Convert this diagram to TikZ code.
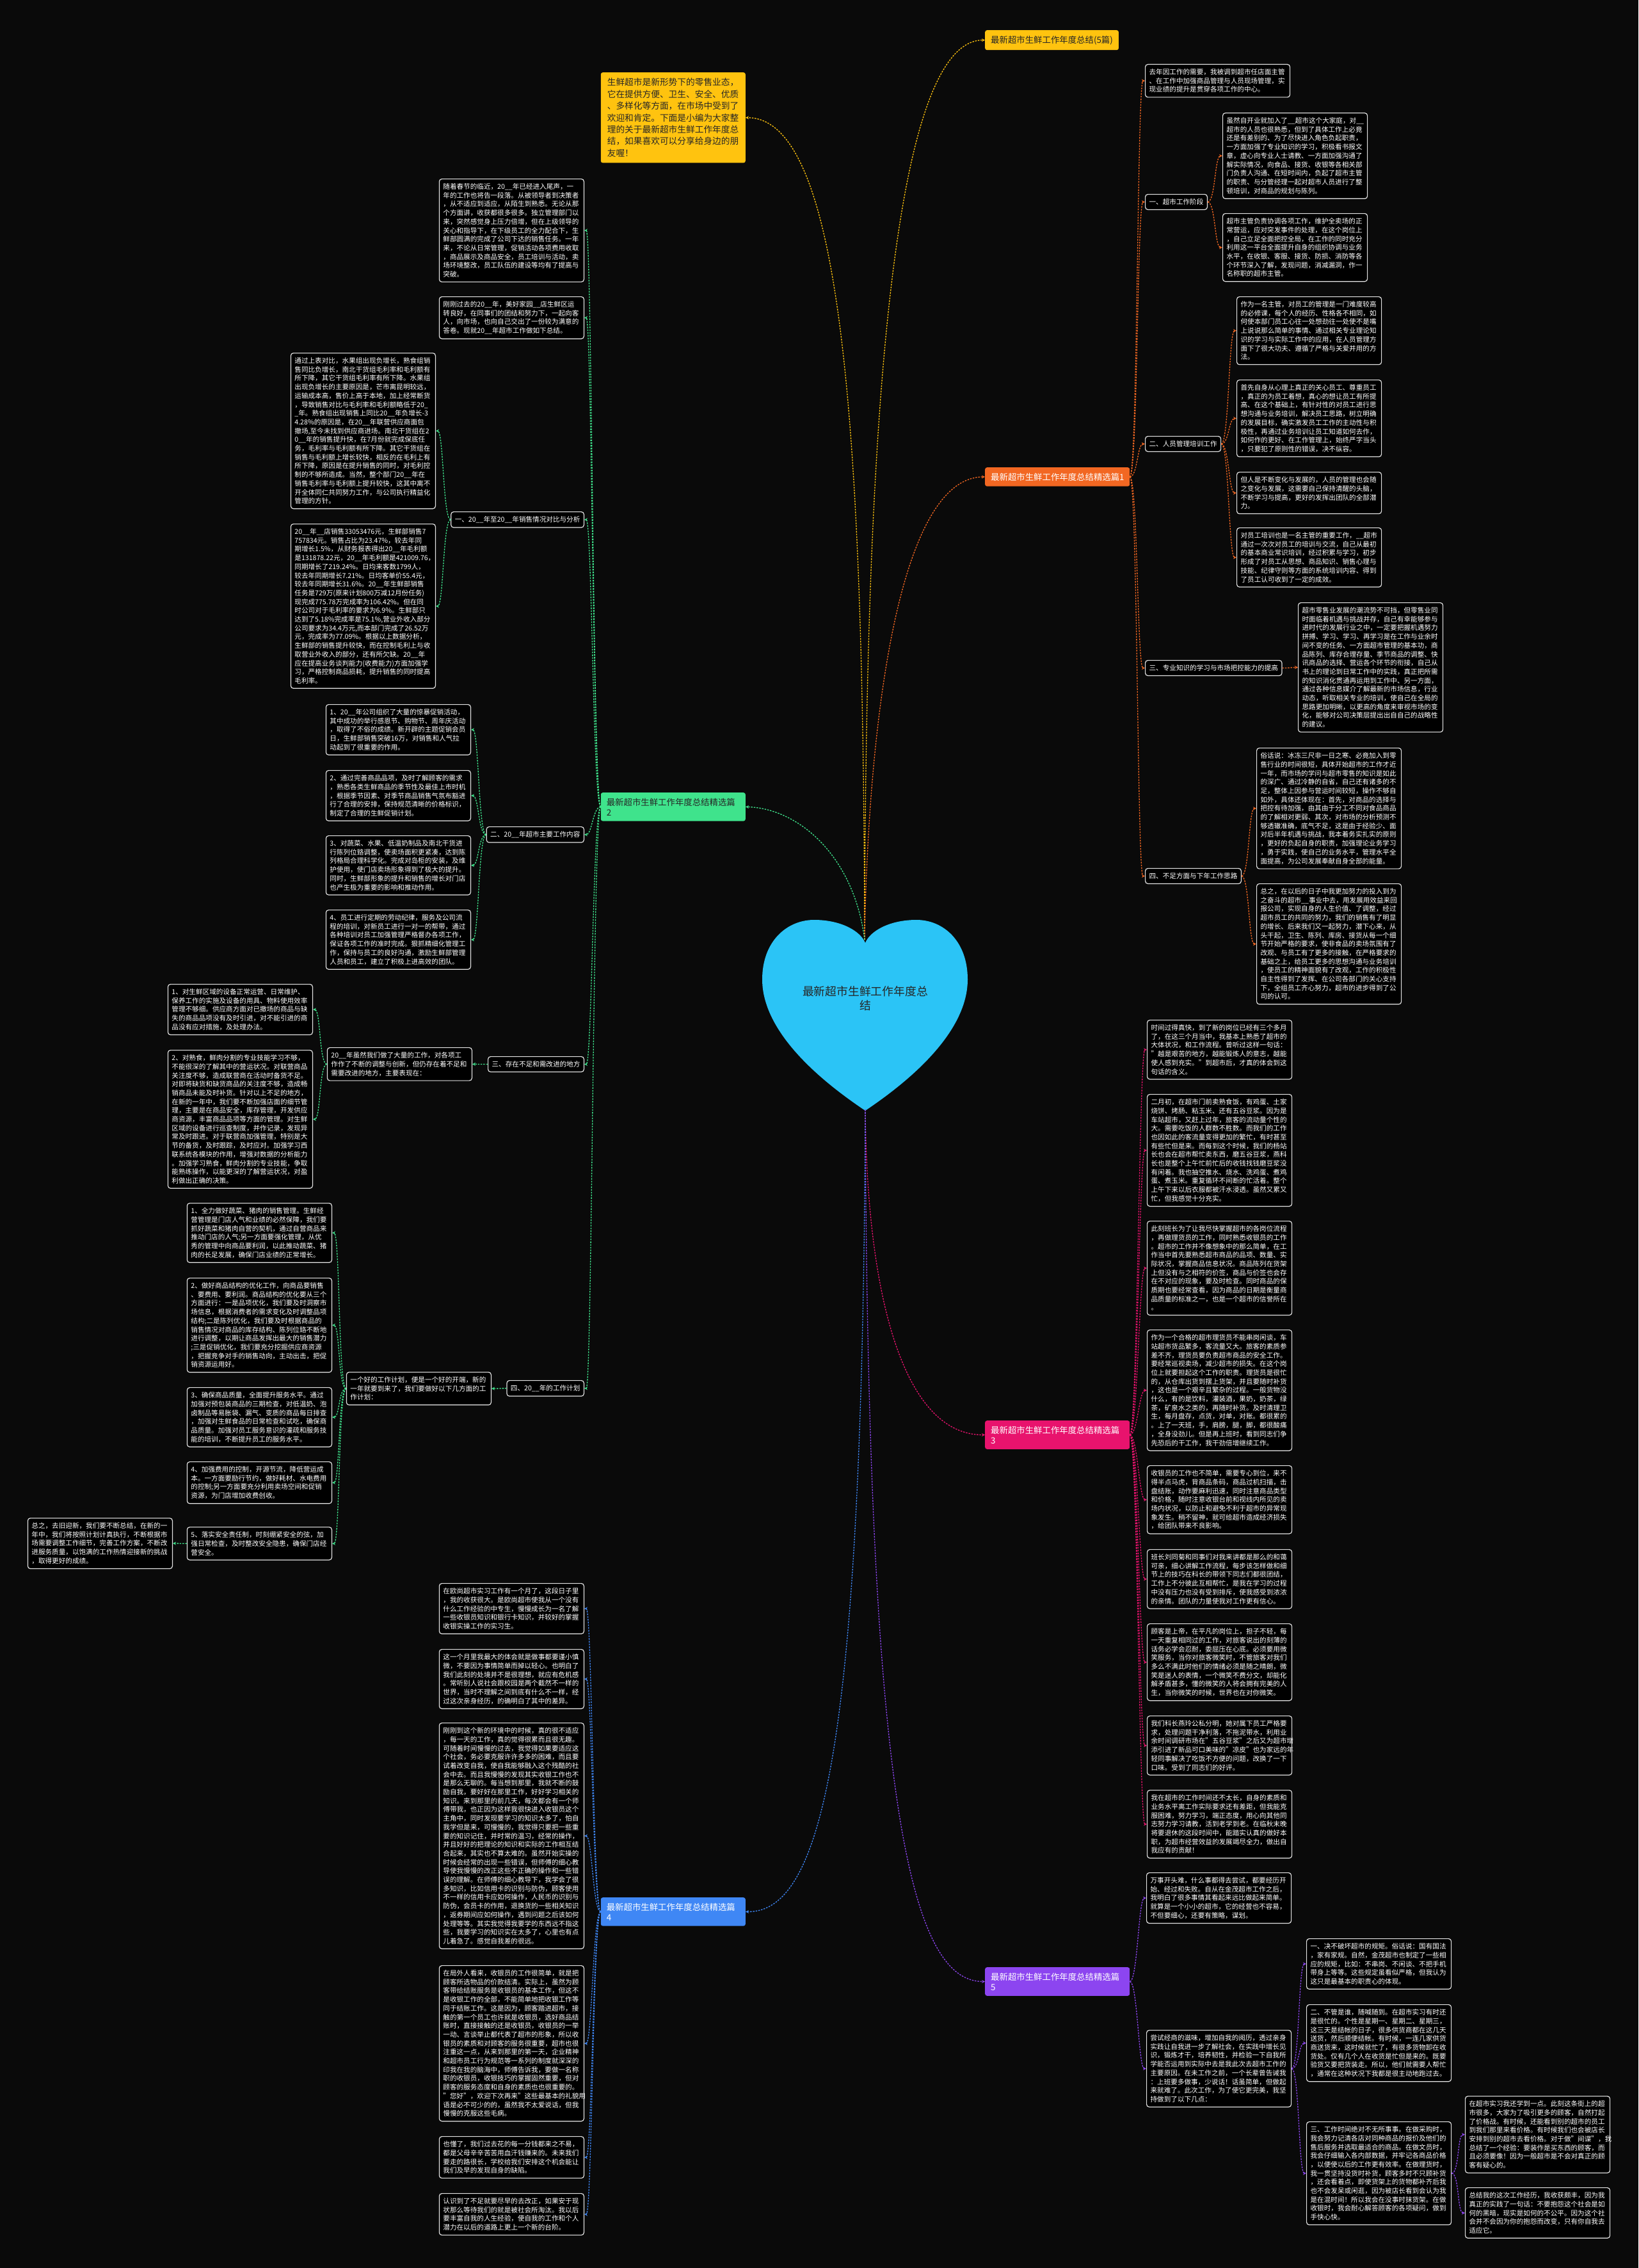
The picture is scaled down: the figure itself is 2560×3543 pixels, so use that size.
\documentclass[tikz,border=0pt]{standalone}
\usepackage{fontspec}
\setmainfont{Noto Sans CJK SC}
\usetikzlibrary{calc,arrows.meta}
\definecolor{bgc}{HTML}{0A0A0A}
\definecolor{boxl}{HTML}{E2E2E2}
\definecolor{cY}{HTML}{FFC30F}
\definecolor{cO}{HTML}{F26722}
\definecolor{cG}{HTML}{3FE38C}
\definecolor{cP}{HTML}{E8136D}
\definecolor{cB}{HTML}{3F87F5}
\definecolor{cV}{HTML}{8C45F0}
\definecolor{cH}{HTML}{2BC4F6}
\tikzset{
  tb/.style={draw=boxl, line width=1.2pt, rounded corners=4pt, fill=black, text=white,
    inner xsep=6pt, inner ysep=7pt, align=left, text width=214pt,
    font=\fontsize{10.6pt}{13.7pt}\selectfont},
  tl/.style={draw=boxl, line width=1.2pt, rounded corners=4pt, fill=black, text=white,
    inner xsep=6pt, inner ysep=7pt, font=\fontsize{10.6pt}{13.7pt}\selectfont},
  mlab/.style={rounded corners=3pt, inner xsep=9pt, inner ysep=8.5pt, align=left,
    font=\fontsize{13.4pt}{16pt}\selectfont},
  cn/.style={line width=1.3pt, dash pattern=on 2.5pt off 1.8pt, -{Stealth[length=5pt,width=5pt]}},
}
\newcommand{\conR}[3]{\draw[cn,#1] (#2.east) .. controls ($(#2.east)+(12,0)$) and ($(#3.west)+(-12,0)$) .. (#3.west);}
\newcommand{\conL}[3]{\draw[cn,#1] (#2.west) .. controls ($(#2.west)+(-12,0)$) and ($(#3.east)+(12,0)$) .. (#3.east);}
\begin{document}
\begin{tikzpicture}[x=1pt,y=-1pt]
\fill[bgc] (0,0) rectangle (2560,3543);
\useasboundingbox (0,0) rectangle (2560,3543);

% heart
\fill[cH] (1352,1735)
 .. controls (1300,1700) and (1191,1620) .. (1191,1530)
 .. controls (1191,1470) and (1230,1437) .. (1272,1437)
 .. controls (1315,1437) and (1345,1455) .. (1352,1473)
 .. controls (1359,1455) and (1389,1437) .. (1432,1437)
 .. controls (1474,1437) and (1512,1470) .. (1512,1530)
 .. controls (1512,1620) and (1404,1700) .. (1352,1735) -- cycle;
\node[align=center, text=black!85, font=\fontsize{17.8pt}{22pt}\selectfont] (root) at (1352,1560) {最新超市生鲜工作年度总\\结};
\coordinate (ht) at (1351,1468);
\coordinate (hb) at (1352,1733);

% main labels
\node[mlab, fill=cY, text=black!85, anchor=north west] (Y5) at (1539,47) {最新超市生鲜工作年度总结(5篇)};
\node[mlab, fill=cO, text=white, anchor=north west, text width=208pt] (O1) at (1539,730) {最新超市生鲜工作年度总结精选篇1};
\node[mlab, fill=cP, text=white, anchor=north west, text width=208pt] (P3) at (1539,2219) {最新超市生鲜工作年度总结精选篇\\3};
\node[mlab, fill=cV, text=white, anchor=north west, text width=208pt] (V5) at (1539,3073) {最新超市生鲜工作年度总结精选篇\\5};
\node[mlab, fill=cG, text=black!85, anchor=north east, text width=208pt] (G2) at (1165,1238) {最新超市生鲜工作年度总结精选篇\\2};
\node[mlab, fill=cB, text=white, anchor=north east, text width=208pt] (B4) at (1165,2964) {最新超市生鲜工作年度总结精选篇\\4};
\node[rounded corners=3pt, fill=cY, text=black!85, anchor=north east, align=left, text width=206pt,
  inner xsep=10pt, inner ysep=9pt, font=\fontsize{13.7pt}{18.4pt}\selectfont] (intro) at (1165,113)
 {生鲜超市是新形势下的零售业态，\\它在提供方便、卫生、安全、优质\\、多样化等方面，在市场中受到了\\欢迎和肯定。下面是小编为大家整\\理的关于最新超市生鲜工作年度总\\结，如果喜欢可以分享给身边的朋\\友喔！};

% heart connectors
\draw[cn,cY] (ht) .. controls (1349,700) and (1320,184) .. (intro.east);
\draw[cn,cY] (ht) .. controls (1352,700) and (1390,62) .. (Y5.west);
\draw[cn,cO] (ht) .. controls (1356,1150) and (1400,746) .. (O1.west);
\draw[cn,cG] (ht) .. controls (1335,1340) and (1250,1263) .. (G2.east);
\draw[cn,cP] (hb) .. controls (1355,2050) and (1420,2242) .. (P3.west);
\draw[cn,cB] (hb) .. controls (1348,2700) and (1290,2988) .. (B4.east);
\draw[cn,cV] (hb) .. controls (1356,2800) and (1420,3096) .. (V5.west);

% ===== 篇1 =====
\node[tb,anchor=north west] (a0) at (1789,100) {去年因工作的需要，我被调到超市任店面主管\\、在工作中加强商品管理与人员现场管理，实\\现业绩的提升是贯穿各项工作的中心。};
\node[tl,anchor=north west] (l1) at (1789,303) {一、超市工作阶段};
\node[tb,anchor=north west] (l1a) at (1910,176) {虽然自开业就加入了\_\_超市这个大家庭，对\_\_\\超市的人员也很熟悉，但到了具体工作上必竟\\还是有差别的、为了尽快进入角色负起职责，\\一方面加强了专业知识的学习，积极看书报文\\章，虚心向专业人士请教、一方面加强沟通了\\解实际情况，向食品、接货、收银等各相关部\\门负责人沟通、在短时间内，负起了超市主管\\的职责、与分管经理一起对超市人员进行了整\\顿培训，对商品的规划与陈列。};
\node[tb,anchor=north west] (l1b) at (1910,333) {超市主管负责协调各项工作，维护全卖场的正\\常营运，应对突发事件的处理，在这个岗位上\\，自己立足全面把控全局，在工作的同时充分\\利用这一平台全面提升自身的组织协调与业务\\水平，在收银、客服、接货、防损、消防等各\\个环节深入了解，发现问题，消减漏洞，作一\\名称职的超市主管。};
\node[tl,anchor=north west] (l2) at (1789,681) {二、人员管理培训工作};
\node[tb,anchor=north west] (l2a) at (1932,463) {作为一名主管，对员工的管理是一门难度较高\\的必修课，每个人的经历、性格各不相同，如\\何使本部门员工心往一处想劲往一处使不是嘴\\上说说那么简单的事情、通过相关专业理论知\\识的学习与实际工作中的应用，在人员管理方\\面下了很大功夫、遵循了严格与关爱并用的方\\法。};
\node[tb,anchor=north west] (l2b) at (1932,593) {首先自身从心理上真正的关心员工、尊重员工\\，真正的为员工着想，真心的想让员工有所提\\高、在这个基础上，有针对性的对员工进行思\\想沟通与业务培训，解决员工思路，树立明确\\的发展目标，确实激发员工工作的主动性与积\\极性，再通过业务培训让员工知道如何去作，\\如何作的更好、在工作管理上，始终严字当头\\，只要犯了原则性的错误，决不纵容。};
\node[tb,anchor=north west] (l2c) at (1932,737) {但人是不断变化与发展的，人员的管理也会随\\之变化与发展，这需要自己保持清醒的头脑，\\不断学习与提高，更好的发挥出团队的全部潜\\力。};
\node[tb,anchor=north west] (l2d) at (1932,824) {对员工培训也是一名主管的重要工作，\_\_超市\\通过一次次对员工的培训与交流，自己从最初\\的基本商业常识培训，经过积累与学习，初步\\形成了对员工从思想、商品知识、销售心理与\\技能、纪律守则等方面的系统培训内容、得到\\了员工认可收到了一定的成效。};
\node[tl,anchor=north west] (l3) at (1789,1031) {三、专业知识的学习与市场把控能力的提高};
\node[tb,anchor=north west] (l3a) at (2028,941) {超市零售业发展的潮流势不可挡，但零售业同\\时面临着机遇与挑战并存，自己有幸能够参与\\进时代的发展行业之中，一定要把握机遇努力\\拼搏、学习、学习、再学习是在工作与业余时\\间不变的任务、一方面超市管理的基本功，商\\品陈列、库存合理存量、季节商品的调整、快\\讯商品的选择、营运各个环节的衔接，自己从\\书上的理论到日常工作中的实践，真正把所需\\的知识消化贯通再运用到工作中、另一方面，\\通过各种信息媒介了解最新的市场信息，行业\\动态，听取相关专业的培训，使自己在全局的\\思路更加明晰，以更高的角度来审视市场的变\\化，能够对公司决策层提出出自自己的战略性\\的建议。};
\node[tl,anchor=north west] (l4) at (1789,1356) {四、不足方面与下年工作思路};
\node[tb,anchor=north west] (l4a) at (1963,1168) {俗话说：冰冻三尺非一日之寒、必竟加入到零\\售行业的时间很短，具体开始超市的工作才近\\一年，而市场的学问与超市零售的知识是如此\\的深广、通过冷静的自省，自己还有诸多的不\\足，整体上因参与营运时间较短，操作不够自\\如外，具体还体现在：首先，对商品的选择与\\把控有待加强，由其由于分工不同对食品商品\\的了解相对更弱、其次，对市场的分析预测不\\够透辙准确，底气不足，这是由于经验少、面\\对后半年机遇与挑战，我本着务实扎实的原则\\，更好的负起自身的职责，加强理论业务学习\\，勇于实践，使自己的业务水平，管理水平全\\面提高，为公司发展奉献自身全部的能量。};
\node[tb,anchor=north west] (l4b) at (1963,1380) {总之，在以后的日子中我更加努力的投入到为\\之奋斗的超市\_\_事业中去，用发展用效益来回\\报公司，实现自身的人生价值、了调整，经过\\超市员工的共同的努力，我们的销售有了明显\\的增长、后来我们又一起努力，潜下心来，从\\头干起，卫生、陈列、库房、接货从每一个细\\节开始严格的要求，使非食品的卖场氛围有了\\改观、与员工有了更多的接触，在严格要求的\\基础之上，给员工更多的思想沟通与业务培训\\，使员工的精神面貌有了改观，工作的积极性\\自主性得到了发挥、在公司各部门的关心支持\\下，全组员工齐心努力，超市的进步得到了公\\司的认可。};
\conR{cO}{O1}{a0}\conR{cO}{O1}{l1}\conR{cO}{O1}{l2}\conR{cO}{O1}{l3}\conR{cO}{O1}{l4}
\conR{cO}{l1}{l1a}\conR{cO}{l1}{l1b}
\conR{cO}{l2}{l2a}\conR{cO}{l2}{l2b}\conR{cO}{l2}{l2c}\conR{cO}{l2}{l2d}
\conR{cO}{l3}{l3a}
\conR{cO}{l4}{l4a}\conR{cO}{l4}{l4b}

% ===== 篇3 =====
\node[tb,anchor=north west] (p1) at (1792,1593) {时间过得真快，到了新的岗位已经有三个多月\\了，在这三个月当中，我基本上熟悉了超市的\\大体状况，和工作流程。曾听过这样一句话：\\"越是艰苦的地方，越能锻炼人的意志，越能\\使人感到充实。"到超市后，才真的体会到这\\句话的含义。};
\node[tb,anchor=north west] (p2) at (1792,1709) {二月初，在超市门前卖熟食饭，有鸡蛋、土家\\烧饼、烤肠、粘玉米、还有五谷豆浆。因为是\\车站超市，又赶上过年，旅客的流动量个性的\\大。需要吃饭的人群数不胜数。而我们的工作\\也因如此的客流量变得更加的繁忙，有时甚至\\有些忙但是来。而每到这个时候，我们的杨站\\长也会在超市帮忙卖东西，磨五谷豆浆，燕科\\长也是整个上午忙前忙后的收钱找钱磨豆浆没\\有闲着。我也抽空推水、烧水、洗鸡蛋、煮鸡\\蛋、煮玉米。重复循环不间断的忙活着。整个\\上午下来以后衣服都被汗水浸透。虽然又累又\\忙，但我感觉十分充实。};
\node[tb,anchor=north west] (p3) at (1792,1907) {此刻班长为了让我尽快掌握超市的各岗位流程\\，再做理货员的工作，同时熟悉收银员的工作\\。超市的工作并不像想象中的那么简单，在工\\作当中首先要熟悉超市商品的品项、数量、实\\际状况，掌握商品信息状况。商品陈列在货架\\上但没有与之相符的价签，商品与价签也会存\\在不对应的现象，要及时检查。同时商品的保\\质期也要经常查看，因为商品的日期是衡量商\\品质量的标准之一，也是一个超市的信誉所在\\。};
\node[tb,anchor=north west] (p4) at (1792,2077) {作为一个合格的超市理货员不能串岗闲谈，车\\站超市货品繁多，客流量又大。旅客的素质参\\差不齐，理货员要负责超市商品的安全工作。\\要经常巡视卖场，减少超市的损失。在这个岗\\位上就要担起这个工作的职责。理货员是很忙\\的，从仓库出货到摆上货架，并且要随时补货\\，这也是一个艰辛且繁杂的过程。一般货物没\\什么，有的是饮料，灌装酒，果奶，奶茶，绿\\茶，矿泉水之类的，再随时补货。及时清理卫\\生，每月盘存，点货，对单，对账。都很累的\\。上了一天班，手，肩膀，腿，脚，都很酸痛\\，全身没劲儿。但是再上班时，看到同志们争\\先恐后的干工作，我干劲倍增继续工作。};
\node[tb,anchor=north west] (p5) at (1792,2289) {收银员的工作也不简单，需要专心到位，来不\\得半点马虎，背商品条码，商品过机扫描，击\\盘结账，动作要麻利迅速，同时注意商品类型\\和价格，随时注意收银台前和视线内所见的卖\\场内状况，以防止和避免不利于超市的异常现\\象发生。稍不留神，就可给超市造成经济损失\\，给团队带来不良影响。};
\node[tb,anchor=north west] (p6) at (1792,2420) {班长刘同菊和同事们对我来讲都是那么的和蔼\\可亲，细心讲解工作流程，每步该怎样做和细\\节上的技巧在科长的带领下同志们都很团结，\\工作上不分彼此互相帮忙，是我在学习的过程\\中没有压力也没有受到排斥，使我感受到浓浓\\的亲情。团队的力量使我对工作更有信心。};
\node[tb,anchor=north west] (p7) at (1792,2536) {顾客是上帝，在平凡的岗位上，担子不轻，每\\一天重复相同过的工作，对旅客说出的刻薄的\\话务必学会忍耐，委屈压在心底。必须要用微\\笑服务，当你对旅客微笑时，不管旅客对我们\\多么不满此时他们的情绪必须是随之晴朗，微\\笑是迷人的表情，一个微笑不费分文，却能化\\解矛盾甚多，懂的微笑的人将会拥有完美的人\\生，当你微笑的时候，世界也在对你微笑。};
\node[tb,anchor=north west] (p8) at (1792,2680) {我们科长燕玲公私分明，她对属下员工严格要\\求，处理问题干净利落，不拖泥带水，利用业\\余时间调研市场在"五谷豆浆"之后又为超市增\\添引进了新品可口美味的"凉皮"也为家远的年\\轻同事解决了吃饭不方便的问题，改换了一下\\口味。受到了同志们的好评。};
\node[tb,anchor=north west] (p9) at (1792,2796) {我在超市的工作时间还不太长，自身的素质和\\业务水平离工作实际要求还有差距，但我能克\\服困难，努力学习，端正态度，用心向其他同\\志努力学习请教，活到老学到老。在临秋末晚\\将要退休的这段时间中，能踏实认真的做好本\\职，为超市经营效益的发展竭尽全力，做出自\\我应有的贡献！};
\conR{cP}{P3}{p1}\conR{cP}{P3}{p2}\conR{cP}{P3}{p3}\conR{cP}{P3}{p4}\conR{cP}{P3}{p5}
\conR{cP}{P3}{p6}\conR{cP}{P3}{p7}\conR{cP}{P3}{p8}\conR{cP}{P3}{p9}

% ===== 篇5 =====
\node[tb,anchor=north west] (q1) at (1791,2925) {万事开头难，什么事都得去尝试，都要经历开\\始、经过和失败。自从在金茂超市工作之后，\\我明白了很多事情其看起来远比做起来简单。\\就算是一个小小的超市，它的经营也不容易，\\不但要细心，还要有策略，谋划。};
\node[tb,anchor=north west] (q2) at (1791,3171) {尝试经商的滋味，增加自我的阅历，透过亲身\\实践让自我进一步了解社会，在实践中增长见\\识，锻炼才干，培养韧性，并检验一下自我所\\学能否运用到实际中去是我此次去超市工作的\\主要原因。在未工作之前，一个长辈曾告诫我\\：上班要多做事，少说话！话虽简单，但做起\\来就难了。此次工作，为了使它更完美，我坚\\持做到了以下几点：};
\node[tb,anchor=north west] (r1) at (2041,3028) {一、决不破坏超市的规矩。俗话说：国有国法\\，家有家规。自然，金茂超市也制定了一些相\\应的规矩，比如：不串岗、不闲谈、不把手机\\带身上等等。这些规定虽看似严格，但我认为\\这只是最基本的职责心的体现。};
\node[tb,anchor=north west] (r2) at (2041,3131) {二、不管是谁，随喊随到。在超市实习有时还\\是很忙的。个性是星期一、星期二、星期三，\\这三天是结帐的日子，很多供货商都在这几天\\送货，然后顺便结帐。有时候，一连几家供货\\商送货来，这时候就忙了，有很多货物卸在收\\货处。仅有几个人在收货是忙但是来的。既要\\验货又要把货装走。所以，他们就需要人帮忙\\，通常在这种状况下我都是很主动地跑过去。};
\node[tb,anchor=north west] (r3) at (2041,3314) {三、工作时间绝对不无所事事。在做采购时，\\我会努力记清各店对同种商品的报价及他们的\\售后服务并选取最适合的商品。在做文员时，\\我会仔细输入各内部数据，并牢记各商品价格\\，以便使以后的工作更有效率。在做理货时，\\我一贯坚持没货时补货，顾客多时不只顾补货\\，还会看着点，即使货架上的货物都补齐后我\\也不会发呆或闲逛，因为被店长看到会认为我\\是在混时间！所以我会在没事时抹货架。在做\\收银时，我会耐心解答顾客的各项疑问，做到\\手快心快。};
\node[tb,anchor=north west] (s1) at (2289,3274) {在超市实习我还学到一点。此刻这条街上的超\\市很多，大家为了吸引更多的顾客，自然打起\\了价格战。有时候，还能看到别的超市的员工\\到我们那里来看价格。有时候我们也会被店长\\安排到别的超市去看价格。对于做"间谍"，我\\总结了一个经验：要装作是买东西的顾客，而\\且必须要像！因为一般超市是不会对真正的顾\\客有疑心的。};
\node[tb,anchor=north west] (s2) at (2289,3417) {总结我的这次工作经历，我收获颇丰，因为我\\真正的实践了一句话：不要抱怨这个社会是如\\何的黑暗，现实是如何的不公平。因为这个社\\会并不会因为你的抱怨而改变，只有你自我去\\适应它。};
\conR{cV}{V5}{q1}\conR{cV}{V5}{q2}
\conR{cV}{q2}{r1}\conR{cV}{q2}{r2}\conR{cV}{q2}{r3}
\conR{cV}{r3}{s1}\conR{cV}{r3}{s2}

% ===== 篇2 =====
\node[tb,anchor=north east] (g0) at (913,279) {随着春节的临近，20\_\_年已经进入尾声，一\\年的工作也将告一段落。从被领导者到决策者\\，从不适应到适应，从陌生到熟悉。无论从那\\个方面讲，收获都很多很多。独立管理部门以\\来，突然感觉身上压力倍增，但在上级领导的\\关心和指导下，在下级员工的全力配合下，生\\鲜部圆满的完成了公司下达的销售任务。一年\\来，不论从日常管理，促销活动各项费用收取\\，商品展示及商品安全，员工培训与活动，卖\\场环境整改，员工队伍的建设等均有了提高与\\突破。};
\node[tb,anchor=north east] (g1) at (913,463) {刚刚过去的20\_\_年，美好家园\_\_店生鲜区运\\转良好，在同事们的团结和努力下，一起向客\\人，向市场，也向自己交出了一份较为满意的\\答卷。现就20\_\_年超市工作做如下总结。};
\node[tl,anchor=north east] (k1) at (913,799) {一、20\_\_年至20\_\_年销售情况对比与分析};
\node[tb,anchor=north east] (k1a) at (681,551) {通过上表对比，水果组出现负增长，熟食组销\\售同比负增长，南北干货组毛利率和毛利额有\\所下降，其它干货组毛利率有所下降。水果组\\出现负增长的主要原因是，芒市离昆明较远，\\运输成本高，售价上高于本地，加上经常断货\\，导致销售对比与毛利率和毛利额略低于20\_\\\_年。熟食组出现销售上同比20\_\_年负增长-3\\4.28\%的原因是，在20\_\_年联营供应商面包\\撤场,至今未找到供应商进场。南北干货组在2\\0\_\_年的销售提升快，在7月份就完成保底任\\务，毛利率与毛利额有所下降。其它干货组在\\销售与毛利额上增长较快，相反的在毛利上有\\所下降，原因是在提升销售的同时，对毛利控\\制的不够所造成。当然，整个部门20\_\_年在\\销售毛利率与毛利额上提升较快，这其中离不\\开全体同仁共同努力工作，与公司执行精益化\\管理的方针。};
\node[tb,anchor=north east] (k1b) at (681,818) {20\_\_年\_\_店销售33053476元，生鲜部销售7\\757834元。销售占比为23.47\%，较去年同\\期增长1.5\%，从财务报表得出20\_\_年毛利额\\是131878.22元，20\_\_年毛利额是421009.76，\\同期增长了219.24\%。日均来客数1799人，\\较去年同期增长7.21\%。日均客单价55.4元，\\较去年同期增长31.6\%。20\_\_年生鲜部销售\\任务是729万(原来计划800万减12月份任务)\\现完成775.78万完成率为106.42\%。但在同\\时公司对于毛利率的要求为6.9\%。生鲜部只\\达到了5.18\%完成率是75.1\%,营业外收入部分\\公司要求为34.4万元,而本部门完成了26.52万\\元，完成率为77.09\%。根据以上数据分析，\\生鲜部的销售提升较快，而在控制毛利上与收\\取营业外收入的部分，还有所欠缺。20\_\_年\\应在提高业务谈判能力(收费能力)方面加强学\\习，严格控制商品损耗，提升销售的同时提高\\毛利率。};
\node[tl,anchor=north east] (k2) at (913,1291) {二、20\_\_年超市主要工作内容};
\node[tb,anchor=north east] (k2a) at (736,1100) {1、20\_\_年公司组织了大量的惊暴促销活动，\\其中成功的举行感恩节、购物节、周年庆活动\\，取得了不俗的成绩。新开辟的主题促销会员\\日，生鲜部销售突破16万，对销售和人气拉\\动起到了很重要的作用。};
\node[tb,anchor=north east] (k2b) at (736,1203) {2、通过完善商品品项，及时了解顾客的需求\\，熟悉各类生鲜商品的季节性及最佳上市时机\\，根据季节因素、对季节商品销售气氛布豁进\\行了合理的安排，保持规范清晰的价格标识，\\制定了合理的生鲜促销计划。};
\node[tb,anchor=north east] (k2c) at (736,1305) {3、对蔬菜、水果、低温奶制品及南北干货进\\行陈列位臵调整，使卖场面积更紧凑，达到陈\\列格局合理科学化。完成对岛柜的安装，及维\\护使用，使门店卖场形象得到了极大的提升。\\同时，生鲜部形象的提升和销售的增长对门店\\也产生极为重要的影响和推动作用。};
\node[tb,anchor=north east] (k2d) at (736,1421) {4、员工进行定期的劳动纪律，服务及公司流\\程的培训，对新员工进行一对一的帮带，通过\\各种培训对员工加强管理严格督办各项工作，\\保证各项工作的准时完成。狠抓精细化管理工\\作，保持与员工的良好沟通，激励生鲜部管理\\人员和员工，建立了积极上进高效的团队。};
\node[tl,anchor=north east] (k3) at (913,1650) {三、存在不足和需改进的地方};
\node[tb,anchor=north east] (k3a) at (738,1636) {20\_\_年虽然我们做了大量的工作，对各项工\\作作了不断的调整与创新，但仍存在着不足和\\需要改进的地方，主要表现在：};
\node[tb,anchor=north east] (k3b) at (489,1537) {1、对生鲜区域的设备正常运营、日常维护、\\保养工作的实施及设备的用具、物料使用效率\\管理不够细。供应商方面对已撤场的商品与缺\\失的商品品项没有及时引进，对不能引进的商\\品没有应对措施，及处理办法。};
\node[tb,anchor=north east] (k3c) at (489,1640) {2、对熟食，鲜肉分割的专业技能学习不够，\\不能很深的了解其中的营运状况。对联营商品\\关注度不够，造成联营商在活动时备货不足。\\对即将缺货和缺货商品的关注度不够，造成畅\\销商品未能及时补货。针对以上不足的地方，\\在新的一年中，我们要不断加强店面的细节管\\理，主要是在商品安全，库存管理，开发供应\\商资源，丰富商品品项等方面的管理。对生鲜\\区域的设备进行巡查制度，并作记录，发现异\\常及时跟进。对于联营商加强管理，特别是大\\节的备货，及时跟踪，及时应对。加强学习西\\联系统各模块的作用，增强对数据的分析能力\\。加强学习熟食，鲜肉分割的专业技能，争取\\能熟练操作，以能更深的了解营运状况，对盈\\利做出正确的决策。};
\node[tl,anchor=north east] (k4) at (913,2156) {四、20\_\_年的工作计划};
\node[tb,anchor=north east] (k4a) at (768,2143) {一个好的工作计划，便是一个好的开端，新的\\一年就要到来了，我们要做好以下几方面的工\\作计划：};
\node[tb,anchor=north east] (h1) at (519,1879) {1、全力做好蔬菜、猪肉的销售管理。生鲜经\\营管理是门店人气和业绩的必然保障，我们要\\抓好蔬菜和猪肉自营的契机，通过自营商品来\\推动门店的人气;另一方面要强化管理，从优\\秀的管理中向商品要利润，以此推动蔬菜、猪\\肉的长足发展，确保门店业绩的正常增长。};
\node[tb,anchor=north east] (h2) at (519,1996) {2、做好商品结构的优化工作，向商品要销售\\、要费用、要利润。商品结构的优化要从三个\\方面进行：一是品项优化，我们要及时洞察市\\场信息，根据消费者的需求变化及时调整品项\\结构;二是陈列优化，我们要及时根据商品的\\销售情况对商品的库存结构、陈列位臵不断地\\进行调整，以期让商品发挥出最大的销售潜力\\;三是促销优化，我们要充分挖掘供应商资源\\，把握竞争对手的销售动向，主动出击，把促\\销资源运用好。};
\node[tb,anchor=north east] (h3) at (519,2167) {3、确保商品质量，全面提升服务水平。通过\\加强对预包装商品的三期检查，对低温奶、泡\\卤制品等易胀袋、漏气、变质的商品每日排查\\，加强对生鲜食品的日常检查和试吃，确保商\\品质量。加强对员工服务意识的灌疏和服务技\\能的培训，不断提升员工的服务水平。};
\node[tb,anchor=north east] (h4) at (519,2283) {4、加强费用的控制，开源节流，降低营运成\\本。一方面要励行节约，做好耗材、水电费用\\的控制;另一方面要充分利用卖场空间和促销\\资源，为门店增加收费创收。};
\node[tb,anchor=north east] (h5) at (519,2385) {5、落实安全责任制，时刻绷紧安全的弦，加\\强日常检查，及时整改安全隐患，确保门店经\\营安全。};
\node[tb,anchor=north east] (h6) at (270,2371) {总之，去旧迎新，我们要不断总结，在新的一\\年中，我们将按照计划计真执行，不断根据市\\场需要调整工作细节，完善工作方案，不断改\\进服务质量，以饱满的工作热情迎接新的挑战\\，取得更好的成绩。};
\conL{cG}{G2}{g0}\conL{cG}{G2}{g1}\conL{cG}{G2}{k1}\conL{cG}{G2}{k2}\conL{cG}{G2}{k3}\conL{cG}{G2}{k4}
\conL{cG}{k1}{k1a}\conL{cG}{k1}{k1b}
\conL{cG}{k2}{k2a}\conL{cG}{k2}{k2b}\conL{cG}{k2}{k2c}\conL{cG}{k2}{k2d}
\conL{cG}{k3}{k3a}\conL{cG}{k3a}{k3b}\conL{cG}{k3a}{k3c}
\conL{cG}{k4}{k4a}
\conL{cG}{k4a}{h1}\conL{cG}{k4a}{h2}\conL{cG}{k4a}{h3}\conL{cG}{k4a}{h4}\conL{cG}{k4a}{h5}
\conL{cG}{h5}{h6}

% ===== 篇4 =====
\node[tb,anchor=north east] (b1) at (913,2473) {在欧尚超市实习工作有一个月了，这段日子里\\，我的收获很大。是欧尚超市使我从一个没有\\什么工作经验的中专生，慢慢成长为一名了解\\一些收银员知识和银行卡知识，并较好的掌握\\收银实操工作的实习生。};
\node[tb,anchor=north east] (b2) at (913,2576) {这一个月里我最大的体会就是做事都要谨小慎\\微，不要因为事情简单而掉以轻心。也明白了\\我们此刻的处境并不是很理想，就应有危机感\\。常听别人说社会跟校园是两个截然不一样的\\世界，当时不理解之间到底有什么不一样，经\\过这次亲身经历，的确明白了其中的差异。};
\node[tb,anchor=north east] (b3) at (913,2691) {刚刚到这个新的环境中的时候，真的很不适应\\，每一天的工作，真的觉得很累而且很无趣。\\可随着时间慢慢的过去，我觉得如果要适应这\\个社会，务必要克服许许多多的困难，而且要\\试着改变自我，使自我能够融入这个残酷的社\\会中去。而且我慢慢的发现其实收银工作也不\\是那么无聊的。每当想到那里，我就不断的鼓\\励自我，要好好在那里工作，好好学习相关的\\知识。来到那里的前几天，每次都会有一个师\\傅带我，也正因为这样我很快进入收银员这个\\主角中，同时发现要学习的知识太多了，怕自\\我学但是来，可慢慢的，我觉得只要把一些重\\要的知识记住，并时常的温习，经常的操作，\\并且好好的把理论的知识和实际的工作相互结\\合起来，其实也不算太难的。虽然开始实操的\\时候会经常的出现一些错误，但师傅的细心教\\导使我慢慢的改正这些不正确的操作和一些错\\误的理解。在师傅的细心教导下，我学会了很\\多知识，比如信用卡的识别与防伪，顾客使用\\不一样的信用卡应如何操作，人民币的识别与\\防伪，会员卡的作用，退换货的一些相关知识\\，返券期间应如何操作，遇到问题之后该如何\\处理等等。其实我觉得我要学的东西远不指这\\些，我要学习的知识实在太多了，心里也有点\\儿着急了。感觉自我差的很远。};
\node[tb,anchor=north east] (b4) at (913,3070) {在局外人看来，收银员的工作很简单，就是把\\顾客所选物品的价款结清。实际上，虽然为顾\\客带给结账服务是收银员的基本工作，但这不\\是收银工作的全部，不能简单地把收银工作等\\同于结账工作。这是因为，顾客踏进超市，接\\触的第一个员工也许就是收银员，选好商品结\\账时，直接接触的还是收银员，收银员的一举\\一动、言谈举止都代表了超市的形象，所以收\\银员的素质和对顾客的服务很重要，超市也很\\注重这一点，从来到那里的第一天，企业精神\\和超市员工行为规范等一系列的制度就深深的\\印我在我的脑海中，师傅告诉我，要做一名称\\职的收银员，收银技巧的掌握固然重要，但对\\顾客的服务态度和自身的素质也也很重要的。\\"您好"，欢迎下次再来"这些最基本的礼貌用\\语是必不可少的的，虽然我不太爱说话，但我\\慢慢的克服这些毛病。};
\node[tb,anchor=north east] (b5) at (913,3337) {也懂了，我们过去花的每一分钱都来之不易，\\都是父母辛辛苦苦用血汗钱赚来的。未来我们\\要走的路很长，学校给我们安排这个机会能让\\我们及早的发现自身的缺陷。};
\node[tb,anchor=north east] (b6) at (913,3426) {认识到了不足就要尽早的去改正，如果安于现\\状那么等待我们的就是被社会所淘汰。我以后\\要丰富自我的人生经验，使自我的工作和个人\\潜力在以后的道路上更上一个新的台阶。};
\conL{cB}{B4}{b1}\conL{cB}{B4}{b2}\conL{cB}{B4}{b3}\conL{cB}{B4}{b4}\conL{cB}{B4}{b5}\conL{cB}{B4}{b6}
\end{tikzpicture}
\end{document}
